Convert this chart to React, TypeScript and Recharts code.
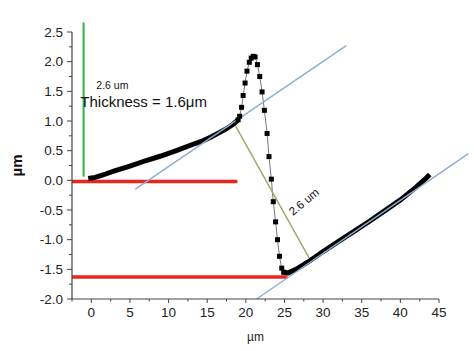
import React from 'react';
import { ComposedChart, Line, XAxis, YAxis, ReferenceLine, ReferenceDot, Label } from 'recharts';

// Profile scan (µm vs µm)
const leftScanX = [-0.4, 0.5, 1.5, 3, 5, 7, 9, 11, 13, 14.5, 15.5, 16.5, 17.5, 18.4, 19.0];
const leftScanY = [0.03, 0.05, 0.09, 0.16, 0.24, 0.33, 0.41, 0.5, 0.6, 0.67, 0.73, 0.8, 0.87, 0.95, 1.02];

const peakScanX = [19.0, 19.2, 19.45, 19.65, 19.9, 20.15, 20.45, 20.7, 20.95, 21.2, 21.5, 21.8, 22.1, 22.4, 22.75, 23.0, 23.3, 23.55, 23.85, 24.1, 24.35, 24.65, 24.9];
const peakScanY = [1.02, 1.08, 1.23, 1.43, 1.64, 1.84, 1.99, 2.06, 2.09, 2.08, 1.95, 1.75, 1.49, 1.18, 0.79, 0.4, 0.02, -0.36, -0.7, -1.0, -1.28, -1.48, -1.55];

const rightScanX = [24.9, 25.5, 26.5, 28, 30, 32, 34, 36, 38, 40, 42, 43.2, 43.8];
const rightScanY = [-1.55, -1.56, -1.5, -1.38, -1.2, -1.03, -0.86, -0.69, -0.51, -0.33, -0.12, 0.02, 0.1];

// Guide lines (endpoints in data units)
const greenMarker = [{ x: -1, y: 0.06 }, { x: -1, y: 2.66 }];
const upperBaseline = [{ x: -2.5, y: -0.02 }, { x: 18.9, y: -0.02 }];
const lowerBaseline = [{ x: -2.5, y: -1.63 }, { x: 25.4, y: -1.63 }];
const upperTangent = [{ x: 5.7, y: -0.15 }, { x: 33, y: 2.27 }];
const lowerTangent = [{ x: 21.4, y: -2.0 }, { x: 48.8, y: 0.45 }];
const normalSegment = [{ x: 18.7, y: 0.91 }, { x: 28.2, y: -1.31 }];

// Axis ticks
const xTicks = [-2.5, 0, 2.5, 5, 7.5, 10, 12.5, 15, 17.5, 20, 22.5, 25, 27.5, 30, 32.5, 35, 37.5, 40, 42.5, 45];
const yTicks = [-2, -1.75, -1.5, -1.25, -1, -0.75, -0.5, -0.25, 0, 0.25, 0.5, 0.75, 1, 1.25, 1.5, 1.75, 2, 2.25, 2.5];

const toPoints = (xs: number[], ys: number[]) => xs.map((x, i) => ({ x, y: ys[i] }));
const leftData = toPoints(leftScanX, leftScanY);
const peakData = toPoints(peakScanX, peakScanY);
const rightData = toPoints(rightScanX, rightScanY);

const FONT = '"Liberation Sans", Arial, sans-serif';
const AXIS_COLOR = '#444';

const X_TICK_SIZE = 4;
const X_TICK_MARGIN = 4;
const Y_TICK_SIZE = 5;
const Y_TICK_MARGIN = 4;

const XTick = (props: any) => {
  const { x, y, payload } = props;
  const v = payload.value as number;
  const major = Math.abs(v % 5) < 1e-9;
  const axisY = y - X_TICK_SIZE - X_TICK_MARGIN;
  return (
    <g>
      <line x1={x} x2={x} y1={axisY} y2={axisY + (major ? X_TICK_SIZE : 2.5)} stroke={AXIS_COLOR} strokeWidth={1} />
      {major && (
        <text x={x} y={y} dy="0.71em" textAnchor="middle" fontSize={13.5} fill="#222" fontFamily={FONT}>
          {String(v)}
        </text>
      )}
    </g>
  );
};

const YTick = (props: any) => {
  const { x, y, payload } = props;
  const v = payload.value as number;
  const major = Math.abs(v % 0.5) < 1e-9;
  const axisX = x + Y_TICK_SIZE + Y_TICK_MARGIN;
  return (
    <g>
      <line x1={axisX - (major ? Y_TICK_SIZE : 3)} x2={axisX} y1={y} y2={y} stroke={AXIS_COLOR} strokeWidth={1} />
      {major && (
        <text x={x} y={y} dy="0.355em" textAnchor="end" fontSize={13.5} fill="#222" fontFamily={FONT}>
          {v.toFixed(1)}
        </text>
      )}
    </g>
  );
};

const SquareDot = (props: any) => {
  const { cx, cy, index } = props;
  if (cx == null || cy == null) return <g key={index} />;
  return <rect key={index} x={cx - 2.5} y={cy - 2.5} width={5} height={5} fill="#000" />;
};

const YLabel = (props: any) => {
  const vb = props.viewBox || { x: 0, y: 0, width: 0, height: 0 };
  const cx = vb.x + 17;
  const cy = vb.y + vb.height / 2;
  return (
    <text x={cx} y={cy} transform={`rotate(-90, ${cx}, ${cy})`} textAnchor="middle" dy="0.355em" fontSize={15} fontWeight="bold" fill="#111" fontFamily={FONT}>
      µm
    </text>
  );
};

export default function App() {
  return (
    <div style={{ position: 'absolute', left: 0, top: 0, background: '#fff' }}>
      <ComposedChart width={474} height={351} margin={{ top: 32, right: 35, bottom: 0, left: 0 }}>
        <XAxis
          dataKey="x"
          type="number"
          domain={[-2.5, 45]}
          ticks={xTicks}
          interval={0}
          allowDataOverflow
          height={52}
          tickSize={X_TICK_SIZE}
          tickMargin={X_TICK_MARGIN}
          tickLine={false}
          tick={<XTick />}
          axisLine={{ stroke: AXIS_COLOR, strokeWidth: 1.2 }}
        >
          <Label value="µm" position="insideBottom" offset={10} fontSize={12} fill="#222" fontFamily={FONT} />
        </XAxis>
        <YAxis
          dataKey="y"
          type="number"
          domain={[-2, 2.5]}
          ticks={yTicks}
          interval={0}
          allowDataOverflow
          width={72}
          tickSize={Y_TICK_SIZE}
          tickMargin={Y_TICK_MARGIN}
          tickLine={false}
          tick={<YTick />}
          axisLine={{ stroke: AXIS_COLOR, strokeWidth: 1.2 }}
        >
          <Label content={<YLabel />} />
        </YAxis>

        <ReferenceLine segment={upperBaseline} stroke="#e8261c" strokeWidth={3.5} ifOverflow="visible" />
        <ReferenceLine segment={lowerBaseline} stroke="#e8261c" strokeWidth={3.5} ifOverflow="visible" />
        <ReferenceLine segment={greenMarker} stroke="#2fb543" strokeWidth={2} ifOverflow="visible" />

        <Line data={leftData} dataKey="y" stroke="#000" strokeWidth={5} dot={false} activeDot={false} isAnimationActive={false} type="linear" />
        <Line data={rightData} dataKey="y" stroke="#000" strokeWidth={5} dot={false} activeDot={false} isAnimationActive={false} type="linear" />
        <Line data={peakData} dataKey="y" stroke="#777" strokeWidth={1} dot={SquareDot} activeDot={false} isAnimationActive={false} type="linear" />

        <ReferenceLine segment={upperTangent} stroke="#8eaed6" strokeWidth={1.5} ifOverflow="visible" />
        <ReferenceLine segment={lowerTangent} stroke="#8eaed6" strokeWidth={1.5} ifOverflow="visible" />
        <ReferenceLine segment={normalSegment} stroke="#a3a86b" strokeWidth={1.5} ifOverflow="visible" />

        <ReferenceDot x={0.65} y={1.6} r={0} fill="none" stroke="none" ifOverflow="visible">
          <Label value="2.6 um" position="right" offset={0} fontSize={10.5} fill="#111" fontFamily={FONT} />
        </ReferenceDot>
        <ReferenceDot x={-1.42} y={1.32} r={0} fill="none" stroke="none" ifOverflow="visible">
          <Label value="Thickness = 1.6μm" position="right" offset={0} fontSize={15} fill="#111" fontFamily={FONT} />
        </ReferenceDot>
        <ReferenceDot x={27.5} y={-0.36} r={0} fill="none" stroke="none" ifOverflow="visible">
          <Label value="2.6 um" position="center" angle={-40} fontSize={11.5} fill="#111" fontFamily={FONT} />
        </ReferenceDot>
      </ComposedChart>
    </div>
  );
}
